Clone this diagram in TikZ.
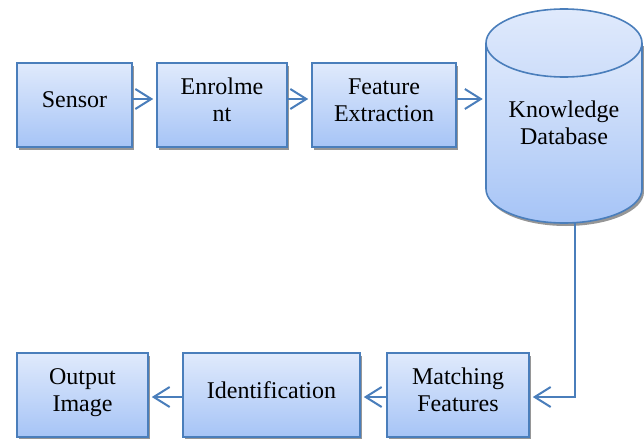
\documentclass[tikz,border=0pt]{standalone}
\usepackage{fontspec}
\setmainfont{Liberation Serif}
\usetikzlibrary{arrows.meta,shadows}

\definecolor{edgeblue}{RGB}{74,126,187}
\definecolor{filltop}{RGB}{224,234,252}
\definecolor{fillbot}{RGB}{166,196,246}
\definecolor{facebot}{RGB}{206,222,250}
\definecolor{shadowgray}{RGB}{150,150,150}

% line strut: keeps every text line the same height and depth
\newcommand{\ls}{\rule[-8.1pt]{0pt}{20.7pt}}

\begin{document}
\begin{tikzpicture}[x=0.75pt,y=-0.75pt,
  blockbox/.style={draw=edgeblue, line width=1.2pt,
    top color=filltop, bottom color=fillbot,
    inner sep=0pt, minimum height=63pt, align=center,
    font=\fontsize{18pt}{20.7pt}\selectfont,
    drop shadow={shadow xshift=1.5pt, shadow yshift=-2.25pt, fill=shadowgray, opacity=1}},
  labeltext/.style={inner sep=0pt, align=center, font=\fontsize{18pt}{20.7pt}\selectfont},
  flow/.style={draw=edgeblue, line width=1.5pt,
    -{Straight Barb[length=12pt,width=15pt]}, shorten >=2.25pt}]

\useasboundingbox (0,0) rectangle (644,439);

% upper row
\node[blockbox, minimum width=86.25pt] (sensor) at (74.5,105) {\ls Sensor};
\node[blockbox, minimum width=97.5pt]  (enrol)  at (222,105)  {\ls Enrolme\\\ls nt};
\node[blockbox, minimum width=108pt]   (feat)   at (384,105)  {\ls Feature\\\ls Extraction};

% database cylinder
\fill[shadowgray] (488,46) -- (488,192)
  arc[start angle=180, end angle=0, x radius=78, y radius=34] -- (644,46) -- cycle;
\shade[top color=filltop, bottom color=fillbot] (486,43) -- (486,189)
  arc[start angle=180, end angle=0, x radius=78, y radius=34] -- (642,43) -- cycle;
\draw[edgeblue, line width=1.2pt] (486,43) -- (486,189)
  arc[start angle=180, end angle=0, x radius=78, y radius=34] -- (642,43);
\shade[top color=filltop, bottom color=facebot] (564,43) ellipse[x radius=78, y radius=34];
\draw[edgeblue, line width=1.2pt] (564,43) ellipse[x radius=78, y radius=34];
\node[inner sep=0pt, minimum width=117pt, minimum height=160.5pt] (db) at (564,116) {};
\node[labeltext] (dbtext) at (564,127.8) {\ls Knowledge\\\ls Database};
\coordinate (dbout) at (575,222.7);

% lower row
\node[blockbox, minimum width=98.25pt]  (out)   at (82.5,395) {\ls Output\\\ls Image};
\node[blockbox, minimum width=132.75pt] (ident) at (271.5,395) {\ls Identification};
\node[blockbox, minimum width=106.5pt]  (match) at (458,395)  {\ls Matching\\\ls Features};

% connectors
\draw[flow] ([yshift=4.5pt]sensor.east) -- ([yshift=4.5pt]enrol.west);
\draw[flow] ([yshift=4.5pt]enrol.east) -- ([yshift=4.5pt]feat.west);
\path ([yshift=4.5pt]feat.east) coordinate (fe);
\draw[flow] (fe) -- (fe -| db.west);
\draw[flow] (dbout) |- ([yshift=-1.5pt]match.east);
\draw[flow] ([yshift=-1.5pt]match.west) -- ([yshift=-1.5pt]ident.east);
\draw[flow] ([yshift=-1.5pt]ident.west) -- ([yshift=-1.5pt]out.east);
\end{tikzpicture}
\end{document}
